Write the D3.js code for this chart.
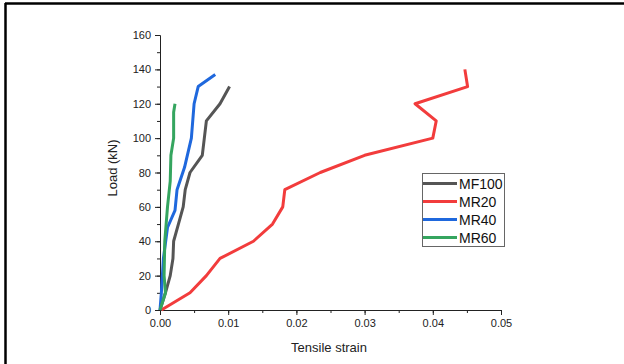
<!DOCTYPE html>
<html>
<head>
<meta charset="utf-8">
<script src="https://cdn.jsdelivr.net/npm/d3@7"></script>
<style>
  body { margin: 0; background: #fff; }
  svg { display: block; font-family: Arial, "Liberation Sans", sans-serif; }
</style>
</head>
<body>
<svg id="chart" width="624" height="364"></svg>
<script>
// strain vs load
const mf100 = [[0,0],[0.0008,10],[0.0015,20],[0.0019,30],[0.0020,40],[0.0027,50],[0.0034,60],[0.0037,70],[0.0044,80],[0.0062,90],[0.0068,110],[0.0088,120],[0.0102,130]];
const mr20 = [[0.0002,0],[0.0044,10],[0.0068,20],[0.0088,30],[0.0137,40],[0.0165,50],[0.0180,60],[0.0183,70],[0.0235,80],[0.0300,90],[0.0400,100],[0.0405,110],[0.0374,120],[0.0451,130],[0.0447,140]];
const mr40 = [[0,0],[0.0002,10],[0.0005,30],[0.0011,48],[0.0022,58],[0.0025,70],[0.0036,83],[0.0046,100],[0.0050,120],[0.0056,130],[0.0081,137]];
const mr60 = [[0,0],[0.0008,10],[0.0006,20],[0.0007,40],[0.0011,60],[0.0015,75],[0.0016,90],[0.0020,100],[0.0020,115],[0.0022,120]];

const seriesNames = ['MF100', 'MR20', 'MR40', 'MR60'];
const seriesColors = ['#555555', '#f23c3c', '#1f68dd', '#35a55f'];
const seriesData = [mf100, mr20, mr40, mr60];

const xTicks = [0, 0.01, 0.02, 0.03, 0.04, 0.05];
const yTicks = [0, 20, 40, 60, 80, 100, 120, 140, 160];

const svg = d3.select('#chart');

// page frame (cropped document)
svg.append('line').attr('x1', 5).attr('x2', 624).attr('y1', 3.5).attr('y2', 3.5)
  .attr('stroke', '#000').attr('stroke-width', 2.5);
svg.append('line').attr('x1', 5.5).attr('x2', 5.5).attr('y1', 3).attr('y2', 364)
  .attr('stroke', '#000').attr('stroke-width', 2.5);

const x = d3.scaleLinear().domain([0, 0.05]).range([160, 501]);
const y = d3.scaleLinear().domain([0, 160]).range([310, 35]);

// minor ticks
const gx = svg.append('g').attr('transform', 'translate(0,310)');
gx.call(d3.axisBottom(x).tickValues(d3.range(0, 0.0501, 0.005)).tickSize(3).tickFormat(''))
  .call(g => g.select('.domain').remove());
gx.append('g').call(d3.axisBottom(x).tickValues(xTicks).tickSize(5).tickPadding(4)
    .tickFormat(d3.format('.2f')))
  .call(g => g.selectAll('text').attr('font-size', 11).attr('fill', '#222').attr('font-family', 'Arial, Liberation Sans, sans-serif'))
  .call(g => g.select('.domain').attr('stroke', '#222'));

const gy = svg.append('g').attr('transform', 'translate(160,0)');
gy.call(d3.axisLeft(y).tickValues(d3.range(0, 161, 10)).tickSize(3).tickFormat(''))
  .call(g => g.select('.domain').remove());
gy.append('g').call(d3.axisLeft(y).tickValues(yTicks).tickSize(5).tickPadding(4))
  .call(g => g.selectAll('text').attr('font-size', 11).attr('fill', '#222').attr('font-family', 'Arial, Liberation Sans, sans-serif'))
  .call(g => g.select('.domain').attr('stroke', '#222'));

svg.selectAll('.tick line').attr('stroke', '#222');

// axis titles
svg.append('text').attr('x', 329).attr('y', 352).attr('text-anchor', 'middle')
  .attr('font-size', 13).attr('fill', '#222').text('Tensile strain');
svg.append('text').attr('transform', 'translate(117,168) rotate(-90)').attr('text-anchor', 'middle')
  .attr('font-size', 13).attr('fill', '#222').text('Load (kN)');

// lines
const line = d3.line().x(d => x(d[0])).y(d => y(d[1]));
seriesData.forEach((data, i) => {
  svg.append('path').datum(data)
    .attr('d', line)
    .attr('fill', 'none')
    .attr('stroke', seriesColors[i])
    .attr('stroke-width', 3)
    .attr('stroke-linejoin', 'round');
});

// legend
const lg = svg.append('g');
lg.append('rect').attr('x', 422.5).attr('y', 173.5).attr('width', 82).attr('height', 73)
  .attr('fill', '#fff').attr('stroke', '#666').attr('stroke-width', 1);
seriesNames.forEach((name, i) => {
  const cy = 183.5 + i * 18;
  lg.append('line').attr('x1', 423).attr('x2', 457).attr('y1', cy).attr('y2', cy)
    .attr('stroke', seriesColors[i]).attr('stroke-width', 3);
  lg.append('text').attr('x', 459).attr('y', cy + 5).attr('font-size', 14)
    .attr('fill', '#111').text(name);
});
</script>
</body>
</html>
